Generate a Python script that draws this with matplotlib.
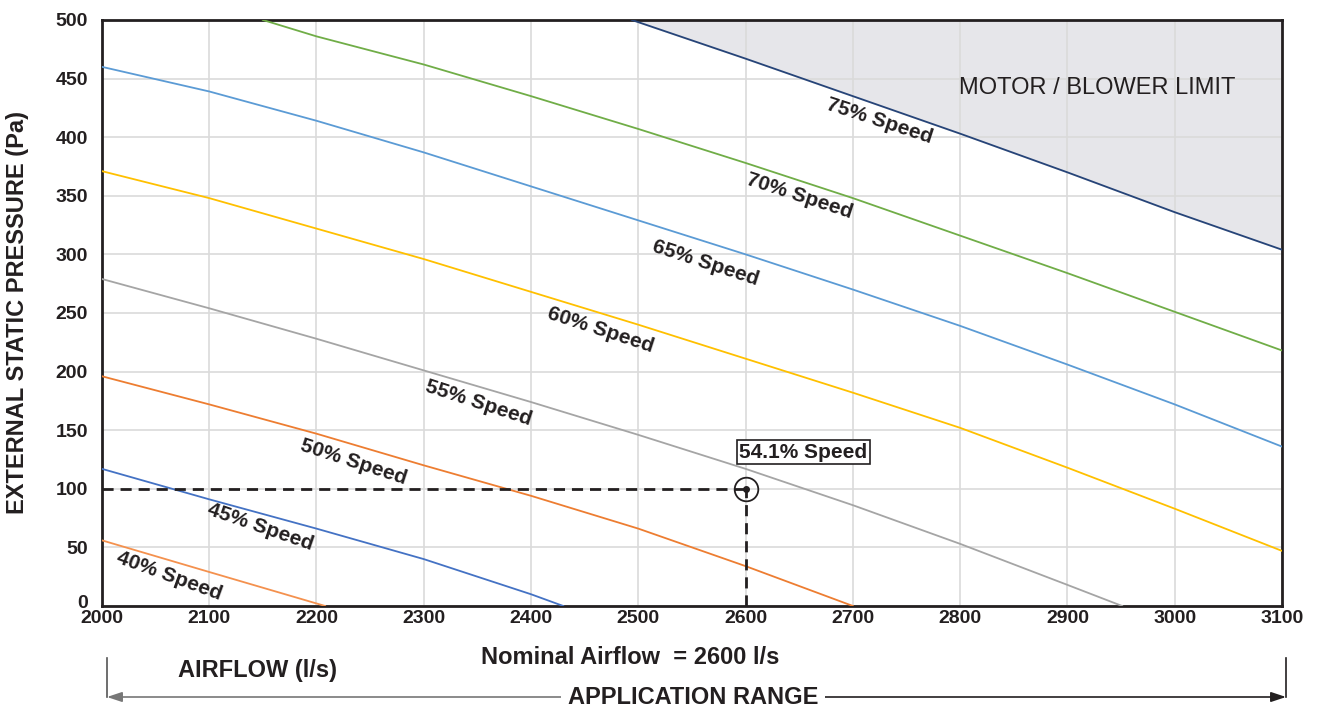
import numpy as np
import matplotlib.pyplot as plt
import matplotlib.patches as mpatches
import matplotlib.transforms as mtrans

plt.rcParams['font.family'] = ['Liberation Sans', 'DejaVu Sans']

# ----------------- Data -----------------
x40 = [2000, 2100, 2208]
y40 = [56, 29, 0]
x45 = [2000, 2100, 2200, 2300, 2400, 2430]
y45 = [117, 91, 66, 40, 10, 0]
x50 = [2000, 2100, 2200, 2300, 2400, 2500, 2600, 2700]
y50 = [196, 172, 147, 120, 94, 66, 34, 0]
x55 = [2000, 2100, 2200, 2300, 2400, 2500, 2600, 2700, 2800, 2900, 2951]
y55 = [279, 254, 228, 201, 174, 146, 117, 86, 53, 18, 0]
x60 = [2000, 2100, 2200, 2300, 2400, 2500, 2600, 2700, 2800, 2900, 3000, 3100]
y60 = [371, 348, 322, 296, 268, 240, 211, 182, 152, 118, 83, 47]
x65 = [2000, 2100, 2200, 2300, 2400, 2500, 2600, 2700, 2800, 2900, 3000, 3100]
y65 = [460, 439, 414, 387, 358, 329, 300, 270, 239, 206, 172, 136]
x70 = [2150, 2200, 2300, 2400, 2500, 2600, 2700, 2800, 2900, 3000, 3100]
y70 = [500, 486, 462, 435, 407, 378, 348, 316, 284, 251, 218]
x75 = [2494, 2600, 2700, 2800, 2900, 3000, 3100]
y75 = [500, 467, 435, 403, 370, 336, 304]

curves = [
    ("40% Speed", x40, y40, '#f4914e', (2063, 26), -20),
    ("45% Speed", x45, y45, '#4472c4', (2148, 67), -19),
    ("50% Speed", x50, y50, '#ed7d31', (2235, 123), -18),
    ("55% Speed", x55, y55, '#a5a5a5', (2351, 173), -18),
    ("60% Speed", x60, y60, '#ffc000', (2465, 235), -18),
    ("65% Speed", x65, y65, '#5b9bd5', (2563, 293), -18),
    ("70% Speed", x70, y70, '#70ad47', (2650, 350), -18),
    ("75% Speed", x75, y75, '#264478', (2725, 414), -18),
]

op_x, op_y = 2600, 100
op_label = "54.1% Speed"

# ----------------- Plot -----------------
fig = plt.figure(figsize=(13.17, 7.08), dpi=100)
ax = fig.add_axes([0.0774, 0.1441, 0.896, 0.8277])

ax.fill_between(x75, y75, 500, color='#e6e6ea', zorder=0)

for label, xs, ys, col, pos, rot in curves:
    ax.plot(xs, ys, color=col, linewidth=1.3, zorder=3)
    ax.text(pos[0], pos[1], label, rotation=rot, ha='center', va='center',
            fontsize=15, weight='bold', color='#231f20', zorder=4,
            rotation_mode='anchor')

ax.text(2928, 442, "MOTOR / BLOWER LIMIT", ha='center', va='center',
        fontsize=17, color='#231f20')

# operating point
ax.plot([2000, op_x], [op_y, op_y], color='#231f20', linestyle=(0, (4, 2.5)), linewidth=2, zorder=5)
ax.plot([op_x, op_x], [0, op_y], color='#231f20', linestyle=(0, (4, 2.5)), linewidth=2, zorder=5)
ax.plot(op_x, op_y, 'o', markersize=17, markerfacecolor='none', markeredgecolor='#231f20',
        markeredgewidth=1.3, zorder=6)
ax.plot(op_x, op_y, 'o', markersize=4, color='#231f20', zorder=6)
ax.text(2594, 131, op_label, ha='left', va='center', fontsize=15, weight='bold', color='#231f20',
        bbox=dict(boxstyle='square,pad=0.12', fc='white', ec='#231f20', lw=1.2), zorder=7)

ax.set_xlim(2000, 3100)
ax.set_ylim(0, 500)
ax.set_xticks(np.arange(2000, 3101, 100))
ax.set_yticks(np.arange(0, 501, 50))
ax.grid(color='#dadada', linewidth=1.2, zorder=0)
ax.set_axisbelow(True)
ax.tick_params(length=0, labelsize=14, colors='#231f20')
ax.tick_params(axis='x', pad=3)
ax.tick_params(axis='y', pad=10)
for lab in ax.get_xticklabels() + ax.get_yticklabels():
    lab.set_fontweight('bold')
# lift the "0" label a little so it clears "2000"
zero_lab = ax.get_yticklabels()[0]
zero_lab.set_transform(zero_lab.get_transform() + mtrans.ScaledTranslation(0, 4 / 100, fig.dpi_scale_trans))
for s in ax.spines.values():
    s.set_linewidth(2)
    s.set_color('#231f20')

ax.set_ylabel("EXTERNAL STATIC PRESSURE (Pa)", fontsize=17, weight='bold', color='#231f20')
ax.yaxis.set_label_coords(-0.062, 0.5)

# bottom annotations
fig.text(630 / 1317, 1 - 658 / 708, "Nominal Airflow  = 2600 l/s", ha='center', va='center',
         fontsize=17, weight='bold', color='#231f20')
fig.text(258 / 1317, 1 - 670 / 708, "AIRFLOW (l/s)", ha='center', va='center',
         fontsize=17, weight='bold', color='#231f20')

yl = 1 - 697 / 708
xl, xr = 107 / 1317, 1286 / 1317
fig.add_artist(plt.Line2D([xl, xl], [1 - 658 / 708, yl], color='#555555', lw=1.2))
fig.add_artist(plt.Line2D([xr, xr], [1 - 658 / 708, yl], color='#231f20', lw=1.2))
fig.patches.append(mpatches.FancyArrowPatch(
    (693 / 1317, yl), (xl, yl), transform=fig.transFigure, arrowstyle='-|>,head_length=9,head_width=3',
    color='#777777', lw=1.2, mutation_scale=1, shrinkA=0, shrinkB=0))
fig.patches.append(mpatches.FancyArrowPatch(
    (693 / 1317, yl), (xr, yl), transform=fig.transFigure, arrowstyle='-|>,head_length=9,head_width=3',
    color='#231f20', lw=1.2, mutation_scale=1, shrinkA=0, shrinkB=0))
fig.text(693 / 1317, yl, "APPLICATION RANGE", ha='center', va='center', fontsize=17,
         weight='bold', color='#231f20',
         bbox=dict(boxstyle='square,pad=0.3', fc='white', ec='none'))

fig.savefig("out.png", dpi=100)
